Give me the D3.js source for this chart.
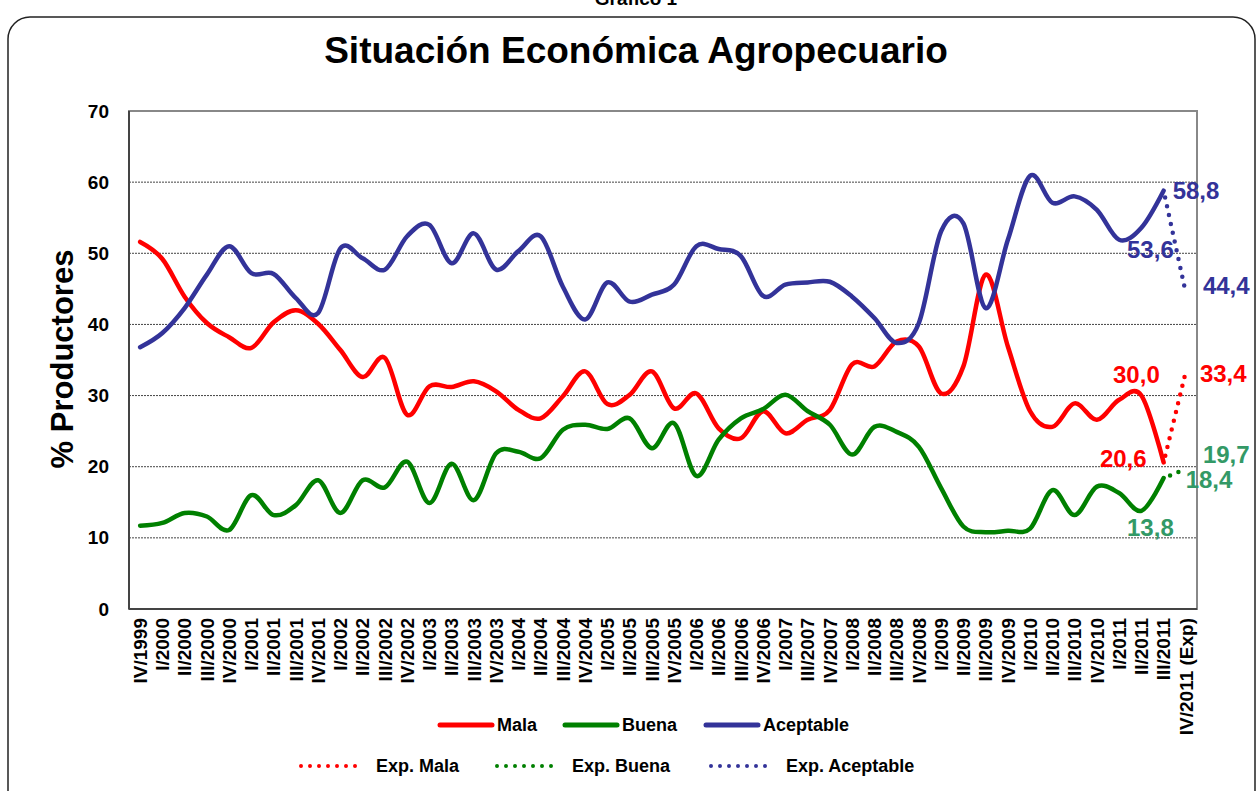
<!DOCTYPE html>
<html>
<head>
<meta charset="utf-8">
<title>Situación Económica Agropecuario</title>
<script src="https://cdn.jsdelivr.net/npm/d3@7"></script>
<style>
body { margin: 0; background: #fff; }
text { font-family: "Liberation Sans", Arial, sans-serif; font-weight: bold; }
.grid line { stroke: #444; stroke-width: 1; stroke-dasharray: 2,1; }
.serie { fill: none; stroke-width: 4.5; stroke-linejoin: round; stroke-linecap: round; }
.exp { fill: none; stroke-width: 4.5; stroke-linecap: round; stroke-dasharray: 0,9; }
</style>
</head>
<body>
<svg id="chart" width="1258" height="791"></svg>
<script>

// trimestres (no hay II/2007 en la serie)
var trimestres = ["IV/1999","I/2000","II/2000","III/2000","IV/2000","I/2001","II/2001","III/2001","IV/2001",
  "I/2002","II/2002","III/2002","IV/2002","I/2003","II/2003","III/2003","IV/2003","I/2004","II/2004","III/2004","IV/2004",
  "I/2005","II/2005","III/2005","IV/2005","I/2006","II/2006","III/2006","IV/2006","I/2007","III/2007","IV/2007",
  "I/2008","II/2008","III/2008","IV/2008","I/2009","II/2009","III/2009","IV/2009","I/2010","II/2010","III/2010","IV/2010",
  "I/2011","II/2011","III/2011","IV/2011 (Exp)"];

var mala = [51.6, 49.2, 43.9, 40.2, 38.2, 36.7, 40.3, 42.0, 40.1, 36.4, 32.6, 35.3, 27.3, 31.3, 31.2, 32.0,
  30.6, 28.0, 26.8, 29.9, 33.4, 28.8, 30.1, 33.4, 28.2, 30.3, 25.4, 24.0, 27.8, 24.7, 26.6, 28.0,
  34.4, 34.1, 37.6, 36.9, 30.3, 34.1, 47.0, 36.9, 27.8, 25.6, 28.9, 26.6, 29.4, 30.0, 20.6];

var buena = [11.7, 12.1, 13.5, 13.0, 11.1, 16.0, 13.2, 14.6, 18.1, 13.5, 18.1, 17.1, 20.7, 14.9, 20.4, 15.3,
  21.9, 22.1, 21.2, 25.2, 25.9, 25.3, 26.8, 22.6, 26.1, 18.7, 23.8, 26.8, 28.1, 30.1, 27.8, 25.9,
  21.7, 25.6, 24.9, 22.8, 17.0, 11.6, 10.8, 11.0, 11.3, 16.7, 13.2, 17.2, 16.3, 13.8, 18.4];

var aceptable = [36.8, 38.8, 42.3, 47.0, 51.0, 47.2, 47.1, 43.7, 41.6, 50.7, 49.3, 47.7, 52.4, 54.0, 48.6, 52.8,
  47.7, 50.3, 52.4, 45.3, 40.7, 45.9, 43.2, 44.2, 45.6, 51.0, 50.6, 49.6, 44.0, 45.6, 45.9, 46.0,
  43.9, 40.9, 37.4, 40.2, 53.1, 54.2, 42.3, 51.9, 60.9, 57.1, 58.0, 56.1, 51.9, 53.6, 58.8];

// expectativa: III/2011 -> IV/2011 (Exp)
var expTrim = ["III/2011", "IV/2011 (Exp)"];
var expMala = [20.6, 33.4];
var expBuena = [18.4, 19.7];
var expAceptable = [58.8, 44.4];

var yTicks = [0, 10, 20, 30, 40, 50, 60, 70];

var rojo = "#ff0000", verde = "#008000", azul = "#333399", verdeEtiq = "#339966";

var svg = d3.select("#chart");

var plot = {left: 129, right: 1197, top: 111, bottom: 609};

var x = d3.scaleBand().domain(trimestres).range([plot.left, plot.right]);
var y = d3.scaleLinear().domain([0, 70]).range([plot.bottom, plot.top]);
function cx(c) { return x(c) + x.bandwidth() / 2; }

// marco del grafico
svg.append("rect")
    .attr("x", 8).attr("y", 17)
    .attr("width", 1247).attr("height", 800)
    .attr("rx", 22).attr("ry", 22)
    .style("fill", "none").style("stroke", "#222").style("stroke-width", 1.5);

svg.append("text")
    .attr("x", 636).attr("y", 5)
    .attr("text-anchor", "middle")
    .style("font-size", "19px")
    .text("Gráfico 1");

svg.append("text")
    .attr("x", 636).attr("y", 63)
    .attr("text-anchor", "middle")
    .style("font-size", "37px")
    .text("Situación Económica Agropecuario");

// grilla
svg.append("g").attr("class", "grid")
  .selectAll("line")
  .data(yTicks.filter(function(d) { return d > 0 && d < 70; }))
  .enter().append("line")
    .attr("x1", plot.left).attr("x2", plot.right)
    .attr("y1", function(d) { return y(d); })
    .attr("y2", function(d) { return y(d); });

// borde del area
svg.append("rect")
    .attr("x", plot.left).attr("y", plot.top)
    .attr("width", plot.right - plot.left).attr("height", plot.bottom - plot.top)
    .style("fill", "none").style("stroke", "#888").style("stroke-width", 2);
svg.append("line")
    .attr("x1", plot.left).attr("x2", plot.right)
    .attr("y1", plot.bottom).attr("y2", plot.bottom)
    .style("stroke", "#444").style("stroke-width", 2);
svg.append("line")
    .attr("x1", plot.left).attr("x2", plot.left)
    .attr("y1", plot.top).attr("y2", plot.bottom)
    .style("stroke", "#444").style("stroke-width", 2);

// eje y
var yAxis = svg.append("g")
    .attr("transform", "translate(" + plot.left + ",0)")
    .call(d3.axisLeft(y).tickValues(yTicks).tickSize(0).tickPadding(20));
yAxis.select(".domain").remove();
yAxis.selectAll("text")
    .style("font-size", "19px")
    .style("font-family", "'Liberation Sans', Arial, sans-serif")
    .style("font-weight", "bold")
    .attr("fill", "#000");

svg.append("text")
    .attr("transform", "translate(73,359) rotate(-90)")
    .attr("text-anchor", "middle")
    .style("font-size", "31px")
    .text("% Productores");

// eje x
var xAxis = svg.append("g")
    .attr("transform", "translate(0," + plot.bottom + ")")
    .call(d3.axisBottom(x).tickSize(0));
xAxis.select(".domain").remove();
xAxis.selectAll("text")
    .style("font-size", "19px")
    .style("font-family", "'Liberation Sans', Arial, sans-serif")
    .style("font-weight", "bold")
    .attr("fill", "#000")
    .attr("text-anchor", "end")
    .attr("transform", "rotate(-90)")
    .attr("x", -9).attr("y", 0).attr("dy", "0.36em");

// series
var linea = d3.line()
    .x(function(d) { return cx(d.c); })
    .y(function(d) { return y(d.v); })
    .curve(d3.curveCardinal);

function puntos(vals, cats) {
  return vals.map(function(v, i) { return {c: cats[i], v: v}; });
}

var series = [
  {vals: mala, color: rojo},
  {vals: buena, color: verde},
  {vals: aceptable, color: azul}
];
series.forEach(function(s) {
  svg.append("path")
      .attr("class", "serie")
      .attr("d", linea(puntos(s.vals, trimestres)))
      .style("stroke", s.color);
});

var expSeries = [
  {vals: expMala, color: rojo},
  {vals: expBuena, color: verde},
  {vals: expAceptable, color: azul}
];
expSeries.forEach(function(s) {
  var p = puntos(s.vals, expTrim);
  svg.append("path")
      .attr("class", "exp")
      .attr("d", linea(p))
      .attr("stroke-dashoffset", -7)
      .style("stroke", s.color);
});

// etiquetas de datos
var etiquetas = [
  {c: "III/2011", v: aceptable[46], color: azul, dx: 9, dy: 0, anchor: "start"},
  {c: "II/2011", v: aceptable[45], color: azul, dx: 9, dy: 22, anchor: "middle"},
  {c: "IV/2011 (Exp)", v: expAceptable[1], color: azul, dx: 17, dy: -8, anchor: "start"},
  {c: "II/2011", v: mala[45], color: rojo, dx: -5, dy: -21, anchor: "middle"},
  {c: "III/2011", v: mala[46], color: rojo, dx: -17, dy: -4, anchor: "end"},
  {c: "IV/2011 (Exp)", v: expMala[1], color: rojo, dx: 14, dy: 2, anchor: "start"},
  {c: "IV/2011 (Exp)", v: expBuena[1], color: verdeEtiq, dx: 17, dy: -14, anchor: "start"},
  {c: "III/2011", v: buena[46], color: verdeEtiq, dx: 22, dy: 2, anchor: "start"},
  {c: "II/2011", v: buena[45], color: verdeEtiq, dx: 9, dy: 17, anchor: "middle"}
];
svg.append("g").selectAll("text")
  .data(etiquetas)
  .enter().append("text")
    .attr("x", function(d) { return cx(d.c) + d.dx; })
    .attr("y", function(d) { return y(d.v) + d.dy; })
    .attr("dy", "0.35em")
    .attr("text-anchor", function(d) { return d.anchor; })
    .style("font-size", "24px")
    .style("fill", function(d) { return d.color; })
    .text(function(d) { return d.v.toFixed(1).replace(".", ","); });

// leyenda
var leyenda = [
  {nombre: "Mala", color: rojo, x: 440, y: 725, exp: false},
  {nombre: "Buena", color: verde, x: 565, y: 725, exp: false},
  {nombre: "Aceptable", color: azul, x: 706, y: 725, exp: false},
  {nombre: "Exp. Mala", color: rojo, x: 301, y: 766, exp: true},
  {nombre: "Exp. Buena", color: verde, x: 497, y: 766, exp: true},
  {nombre: "Exp. Aceptable", color: azul, x: 711, y: 766, exp: true}
];
var ley = svg.append("g").selectAll("g")
  .data(leyenda)
  .enter().append("g")
    .attr("transform", function(d) { return "translate(" + d.x + "," + d.y + ")"; });
ley.append("line")
    .attr("x1", 0)
    .attr("x2", function(d) { return d.exp ? 60 : 52; })
    .attr("class", function(d) { return d.exp ? "exp" : "serie"; })
    .attr("stroke-dasharray", function(d) { return d.exp ? "0,9.6" : null; })
    .style("stroke-width", function(d) { return d.exp ? 4 : 5; })
    .style("stroke", function(d) { return d.color; });
ley.append("text")
    .attr("x", function(d) { return d.exp ? 75 : 57; })
    .attr("dy", "0.35em")
    .style("font-size", "18px")
    .text(function(d) { return d.nombre; });

</script>
</body>
</html>
